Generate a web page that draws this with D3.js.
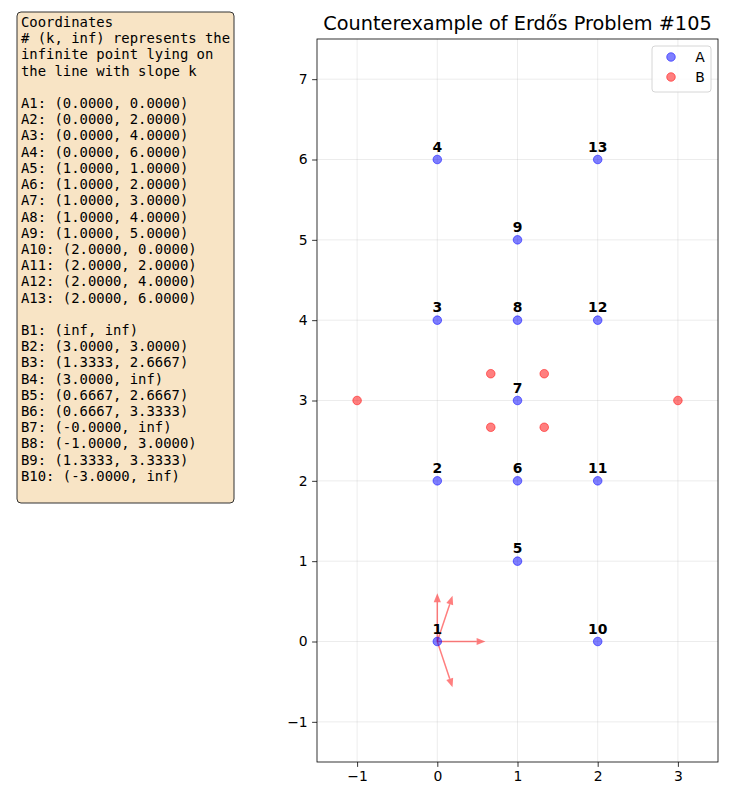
<!DOCTYPE html>
<html>
<head>
<meta charset="utf-8">
<script src="https://cdn.jsdelivr.net/npm/d3@7"></script>
<style>
  body { margin: 0; background: #fff; }
  svg text { font-family: "DejaVu Sans", sans-serif; }
  svg text.mono { font-family: "DejaVu Sans Mono", monospace; }
</style>
</head>
<body>
<div id="chart"></div>
<script>
// A 点（有限点）
var aLabels = ["1","2","3","4","5","6","7","8","9","10","11","12","13"];
var aX = [0, 0, 0, 0, 1, 1, 1, 1, 1, 2, 2, 2, 2];
var aY = [0, 2, 4, 6, 1, 2, 3, 4, 5, 0, 2, 4, 6];

// B 点：k 表示斜率，inf 表示无穷远点
var bX = [Infinity, 3, 4/3, 3, 2/3, 2/3, -0, -1, 4/3, -3];
var bY = [Infinity, 3, 8/3, Infinity, 8/3, 10/3, Infinity, 3, 10/3, Infinity];

var xTicks = [-1, 0, 1, 2, 3];
var yTicks = [-1, 0, 1, 2, 3, 4, 5, 6, 7];
var xDomain = [-1.5, 3.5];
var yDomain = [-1.5, 7.5];

var width = 750, height = 800;
var plot = { left: 317, right: 718, top: 39, bottom: 762 };

var svg = d3.select("#chart").append("svg")
    .attr("width", width)
    .attr("height", height);

var x = d3.scaleLinear().domain(xDomain).range([plot.left, plot.right]);
var y = d3.scaleLinear().domain(yDomain).range([plot.bottom, plot.top]);

// 网格
svg.append("g").selectAll("line").data(xTicks).enter().append("line")
    .attr("x1", function (d) { return x(d); }).attr("x2", function (d) { return x(d); })
    .attr("y1", plot.top).attr("y2", plot.bottom)
    .attr("stroke", "#b0b0b0").attr("stroke-opacity", 0.3).attr("stroke-width", 0.8);
svg.append("g").selectAll("line").data(yTicks).enter().append("line")
    .attr("y1", function (d) { return y(d); }).attr("y2", function (d) { return y(d); })
    .attr("x1", plot.left).attr("x2", plot.right)
    .attr("stroke", "#b0b0b0").attr("stroke-opacity", 0.3).attr("stroke-width", 0.8);

// 坐标轴
var fmt = function (d) { return d < 0 ? "\u2212" + Math.abs(d) : String(d); };
var xAxis = svg.append("g")
    .attr("transform", "translate(0," + plot.bottom + ")")
    .call(d3.axisBottom(x).tickValues(xTicks).tickFormat(fmt).tickSize(4.9).tickPadding(4.5));
var yAxis = svg.append("g")
    .attr("transform", "translate(" + plot.left + ",0)")
    .call(d3.axisLeft(y).tickValues(yTicks).tickFormat(fmt).tickSize(4.9).tickPadding(4.5));
[xAxis, yAxis].forEach(function (g) {
    g.select(".domain").remove();
    g.selectAll("text").attr("font-size", "13.9px").attr("fill", "#000");
    g.selectAll("line").attr("stroke", "#000").attr("stroke-width", 0.8);
});

// 无穷远点方向箭头（从原点出发）
var arrowLen = 0.6, headLen = 0.11, headW = 0.045;
var dirs = [];
bX.forEach(function (k, i) {
    if (bY[i] !== Infinity) return;
    var dx, dy;
    if (k === Infinity) { dx = 0; dy = 1; }
    else { var n = Math.sqrt(1 + k * k); dx = 1 / n; dy = k / n; }
    dirs.push([dx, dy]);
});
var arrows = svg.append("g");
dirs.forEach(function (d) {
    var tx = d[0] * arrowLen, ty = d[1] * arrowLen;
    var bx = d[0] * (arrowLen - headLen), by = d[1] * (arrowLen - headLen);
    var px = -d[1], py = d[0];
    arrows.append("line")
        .attr("x1", x(0)).attr("y1", y(0))
        .attr("x2", x(bx)).attr("y2", y(by))
        .attr("stroke", "red").attr("stroke-opacity", 0.5).attr("stroke-width", 1.5);
    arrows.append("path")
        .attr("d", "M" + x(tx) + "," + y(ty) +
            "L" + x(bx + px * headW) + "," + y(by + py * headW) +
            "L" + x(bx - px * headW) + "," + y(by - py * headW) + "Z")
        .attr("fill", "red").attr("fill-opacity", 0.5);
});

// B 有限点
var bFinite = [];
bX.forEach(function (v, i) {
    if (v !== Infinity && bY[i] !== Infinity) bFinite.push([v, bY[i]]);
});
svg.append("g").selectAll("circle").data(bFinite).enter().append("circle")
    .attr("cx", function (d) { return x(d[0]); })
    .attr("cy", function (d) { return y(d[1]); })
    .attr("r", 4.3)
    .attr("fill", "red").attr("fill-opacity", 0.5)
    .attr("stroke", "red").attr("stroke-opacity", 0.5).attr("stroke-width", 1);

// A 点
var aPts = aX.map(function (v, i) { return [v, aY[i], aLabels[i]]; });
svg.append("g").selectAll("circle").data(aPts).enter().append("circle")
    .attr("cx", function (d) { return x(d[0]); })
    .attr("cy", function (d) { return y(d[1]); })
    .attr("r", 4.3)
    .attr("fill", "blue").attr("fill-opacity", 0.5)
    .attr("stroke", "blue").attr("stroke-opacity", 0.5).attr("stroke-width", 1);
svg.append("g").selectAll("text").data(aPts).enter().append("text")
    .attr("x", function (d) { return x(d[0]); })
    .attr("y", function (d) { return y(d[1]) - 8; })
    .attr("text-anchor", "middle")
    .attr("font-size", "13.9px").attr("font-weight", "bold")
    .text(function (d) { return d[2]; });

// 边框
svg.append("rect")
    .attr("x", plot.left).attr("y", plot.top)
    .attr("width", plot.right - plot.left).attr("height", plot.bottom - plot.top)
    .attr("fill", "none").attr("stroke", "#000").attr("stroke-width", 0.8);

// 标题
svg.append("text")
    .attr("x", (plot.left + plot.right) / 2).attr("y", 30)
    .attr("text-anchor", "middle").attr("font-size", "19.3px")
    .text("Counterexample of Erdős Problem #105");

// 图例
var legend = svg.append("g");
legend.append("rect")
    .attr("x", 652).attr("y", 46).attr("width", 59).attr("height", 46)
    .attr("rx", 3).attr("fill", "#fff").attr("fill-opacity", 0.8)
    .attr("stroke", "#cccccc").attr("stroke-width", 0.8);
[["A", "blue"], ["B", "red"]].forEach(function (e, i) {
    var ly = 57 + i * 20;
    legend.append("circle").attr("cx", 671).attr("cy", ly).attr("r", 4.3)
        .attr("fill", e[1]).attr("fill-opacity", 0.5)
        .attr("stroke", e[1]).attr("stroke-opacity", 0.5);
    legend.append("text").attr("x", 700).attr("y", ly + 5)
        .attr("font-size", "13.9px").attr("text-anchor", "middle").text(e[0]);
});

// 坐标文本框
var f4 = function (v) {
    if (v === Infinity) return "inf";
    var s = v.toFixed(4);
    if (Object.is(v, -0)) s = "-" + s;
    return s;
};
var lines = ["Coordinates", "# (k, inf) represents the", "infinite point lying on",
    "the line with slope k", ""];
aX.forEach(function (v, i) { lines.push("A" + (i + 1) + ": (" + f4(v) + ", " + f4(aY[i]) + ")"); });
lines.push("");
bX.forEach(function (v, i) { lines.push("B" + (i + 1) + ": (" + f4(v) + ", " + f4(bY[i]) + ")"); });

svg.append("rect")
    .attr("x", 17).attr("y", 12).attr("width", 217).attr("height", 491)
    .attr("rx", 4).attr("fill", "#f8e4c5")
    .attr("stroke", "#333").attr("stroke-width", 1);
svg.append("g").selectAll("text").data(lines).enter().append("text")
    .attr("class", "mono")
    .attr("x", 21)
    .attr("y", function (d, i) { return 27 + i * 16.21; })
    .attr("font-size", "13.9px")
    .style("white-space", "pre")
    .text(function (d) { return d; });
</script>
</body>
</html>
